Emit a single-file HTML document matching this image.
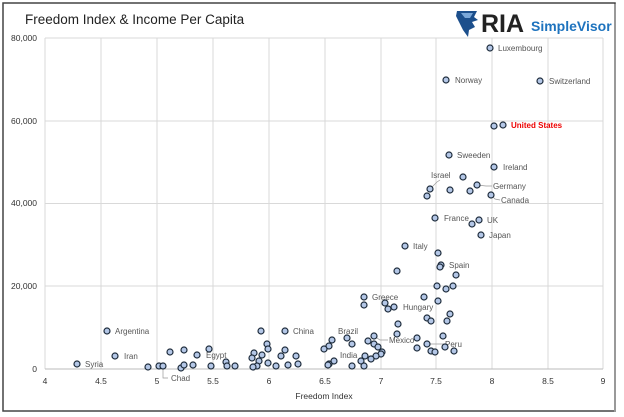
<!DOCTYPE html>
<html><head><meta charset="utf-8"><style>
body{margin:0;background:#fff;}
svg{display:block;font-family:"Liberation Sans",sans-serif;}
.l{font-size:8px;fill:#555;}
.t{font-size:8.5px;fill:#333;}
</style></head><body>
<svg width="624" height="417" viewBox="0 0 624 417">
<rect x="0" y="0" width="624" height="417" fill="#fff"/>
<rect x="3" y="3" width="612" height="408" fill="none" stroke="#444" stroke-width="1.5"/>
<line x1="615" y1="4" x2="615" y2="412" stroke="#999" stroke-width="2"/>
<text x="25" y="24" font-size="13.5" fill="#222">Freedom Index &amp; Income Per Capita</text>
<!-- logo -->
<path d="M457,11 L477,11 L474,17 L478,20 L472,22 L475,27 L469,30 L468,37 L463,30 L459,22 L456,16 Z" fill="#1c4f8c"/>
<path d="M461,13 L473,13 L470,18 L465,18 Z" fill="#7aa7d8"/>
<text x="481" y="32" font-size="25" font-weight="bold" fill="#222">RIA</text>
<text x="531" y="31" font-size="14" font-weight="bold" fill="#1e73be">SimpleVisor</text>
<!-- grid -->
<g stroke="#d9d9d9" stroke-width="1">
<line x1="45" y1="38" x2="603" y2="38"/><line x1="45" y1="121" x2="603" y2="121"/><line x1="45" y1="203.5" x2="603" y2="203.5"/><line x1="45" y1="286" x2="603" y2="286"/>
<line x1="45" y1="38" x2="45" y2="369"/><line x1="101" y1="38" x2="101" y2="369"/><line x1="157" y1="38" x2="157" y2="369"/><line x1="213" y1="38" x2="213" y2="369"/><line x1="269" y1="38" x2="269" y2="369"/><line x1="325" y1="38" x2="325" y2="369"/><line x1="381" y1="38" x2="381" y2="369"/><line x1="436" y1="38" x2="436" y2="369"/><line x1="492" y1="38" x2="492" y2="369"/><line x1="548" y1="38" x2="548" y2="369"/><line x1="603" y1="38" x2="603" y2="369"/>
</g>
<line x1="45" y1="369" x2="603" y2="369" stroke="#bbb"/>
<g class="t" text-anchor="end">
<text x="37" y="41">80,000</text><text x="37" y="124">60,000</text><text x="37" y="206">40,000</text><text x="37" y="289">20,000</text><text x="37" y="372">0</text>
</g>
<g class="t" text-anchor="middle">
<text x="45" y="384">4</text><text x="101" y="384">4.5</text><text x="157" y="384">5</text><text x="213" y="384">5.5</text><text x="269" y="384">6</text><text x="325" y="384">6.5</text><text x="381" y="384">7</text><text x="436" y="384">7.5</text><text x="492" y="384">8</text><text x="548" y="384">8.5</text><text x="603" y="384">9</text>
<text x="324" y="399">Freedom Index</text>
</g>
<!-- leader lines -->
<g stroke="#999" stroke-width="0.7" fill="none">
<polyline points="430,189 437,182 440,180"/>
<polyline points="477,185 486,186 492,186"/>
<polyline points="491,195 495,199 500,200"/>
<polyline points="374,336 380,340 388,340"/>
<polyline points="427,344 445,344"/>
<polyline points="163,366 163,378 168,378"/>
</g>
<!-- labels -->
<g class="l">
<text x="498" y="51">Luxembourg</text>
<text x="455" y="83">Norway</text>
<text x="549" y="84">Switzerland</text>
<text x="511" y="128" fill="#e00" font-weight="bold">United States</text>
<text x="457" y="158">Sweeden</text>
<text x="503" y="170">Ireland</text>
<text x="431" y="178">Israel</text>
<text x="493" y="189">Germany</text>
<text x="501" y="203">Canada</text>
<text x="444" y="221">France</text>
<text x="487" y="223">UK</text>
<text x="489" y="238">Japan</text>
<text x="413" y="249">Italy</text>
<text x="449" y="268">Spain</text>
<text x="372" y="300">Greece</text>
<text x="403" y="310">Hungary</text>
<text x="338" y="334">Brazil</text>
<text x="293" y="334">China</text>
<text x="389" y="343">Mexico</text>
<text x="445" y="347">Peru</text>
<text x="340" y="358">India</text>
<text x="115" y="334">Argentina</text>
<text x="124" y="359">Iran</text>
<text x="85" y="367">Syria</text>
<text x="206" y="358">Egypt</text>
<text x="171" y="381">Chad</text>
</g>
<!-- points -->
<g fill="#b4c7e7" stroke="#1f2d3d" stroke-width="1.2">
<circle cx="490" cy="48" r="3"/><circle cx="446" cy="80" r="3"/><circle cx="540" cy="81" r="3"/><circle cx="494" cy="126" r="3"/><circle cx="503" cy="125" r="3"/>
<circle cx="449" cy="155" r="3"/><circle cx="494" cy="167" r="3"/><circle cx="463" cy="177" r="3"/><circle cx="430" cy="189" r="3"/><circle cx="427" cy="196" r="3"/><circle cx="450" cy="190" r="3"/><circle cx="470" cy="191" r="3"/><circle cx="477" cy="185" r="3"/><circle cx="491" cy="195" r="3"/>
<circle cx="435" cy="218" r="3"/><circle cx="472" cy="224" r="3"/><circle cx="479" cy="220" r="3"/><circle cx="481" cy="235" r="3"/><circle cx="405" cy="246" r="3"/><circle cx="438" cy="253" r="3"/><circle cx="441" cy="265" r="3"/><circle cx="440" cy="267" r="3"/><circle cx="397" cy="271" r="3"/><circle cx="456" cy="275" r="3"/><circle cx="437" cy="286" r="3"/><circle cx="446" cy="289" r="3"/><circle cx="453" cy="286" r="3"/>
<circle cx="364" cy="297" r="3"/><circle cx="364" cy="305" r="3"/><circle cx="385" cy="303" r="3"/><circle cx="388" cy="309" r="3"/><circle cx="394" cy="307" r="3"/><circle cx="424" cy="297" r="3"/><circle cx="438" cy="301" r="3"/><circle cx="450" cy="314" r="3"/><circle cx="427" cy="318" r="3"/><circle cx="431" cy="321" r="3"/><circle cx="447" cy="321" r="3"/><circle cx="398" cy="324" r="3"/><circle cx="397" cy="334" r="3"/><circle cx="443" cy="336" r="3"/>
<circle cx="374" cy="336" r="3"/><circle cx="368" cy="341" r="3"/><circle cx="374" cy="344" r="3"/><circle cx="378" cy="347" r="3"/><circle cx="347" cy="338" r="3"/><circle cx="352" cy="344" r="3"/><circle cx="332" cy="340" r="3"/><circle cx="329" cy="346" r="3"/><circle cx="324" cy="349" r="3"/><circle cx="417" cy="338" r="3"/><circle cx="427" cy="344" r="3"/><circle cx="417" cy="348" r="3"/><circle cx="445" cy="347" r="3"/><circle cx="431" cy="351" r="3"/><circle cx="435" cy="352" r="3"/><circle cx="454" cy="351" r="3"/>
<circle cx="382" cy="352" r="3"/><circle cx="381" cy="354" r="3"/><circle cx="376" cy="356" r="3"/><circle cx="365" cy="356" r="3"/><circle cx="371" cy="359" r="3"/><circle cx="361" cy="361" r="3"/><circle cx="352" cy="366" r="3"/><circle cx="364" cy="366" r="3"/><circle cx="334" cy="361" r="3"/><circle cx="329" cy="364" r="3"/><circle cx="328" cy="365" r="3"/>
<circle cx="285" cy="331" r="3"/><circle cx="261" cy="331" r="3"/><circle cx="267" cy="344" r="3"/><circle cx="268" cy="349" r="3"/><circle cx="254" cy="353" r="3"/><circle cx="262" cy="355" r="3"/><circle cx="252" cy="358" r="3"/><circle cx="259" cy="361" r="3"/><circle cx="257" cy="366" r="3"/><circle cx="253" cy="367" r="3"/><circle cx="268" cy="363" r="3"/><circle cx="276" cy="366" r="3"/><circle cx="281" cy="356" r="3"/><circle cx="285" cy="350" r="3"/><circle cx="288" cy="365" r="3"/><circle cx="296" cy="356" r="3"/><circle cx="298" cy="364" r="3"/>
<circle cx="209" cy="349" r="3"/><circle cx="211" cy="366" r="3"/><circle cx="226" cy="362" r="3"/><circle cx="227" cy="366" r="3"/><circle cx="235" cy="366" r="3"/>
<circle cx="77" cy="364" r="3"/><circle cx="107" cy="331" r="3"/><circle cx="115" cy="356" r="3"/><circle cx="148" cy="367" r="3"/><circle cx="159" cy="366" r="3"/><circle cx="163" cy="366" r="3"/><circle cx="170" cy="352" r="3"/><circle cx="181" cy="368" r="3"/><circle cx="184" cy="365" r="3"/><circle cx="184" cy="350" r="3"/><circle cx="193" cy="365" r="3"/><circle cx="197" cy="355" r="3"/>
</g>
</svg>
</body></html>
